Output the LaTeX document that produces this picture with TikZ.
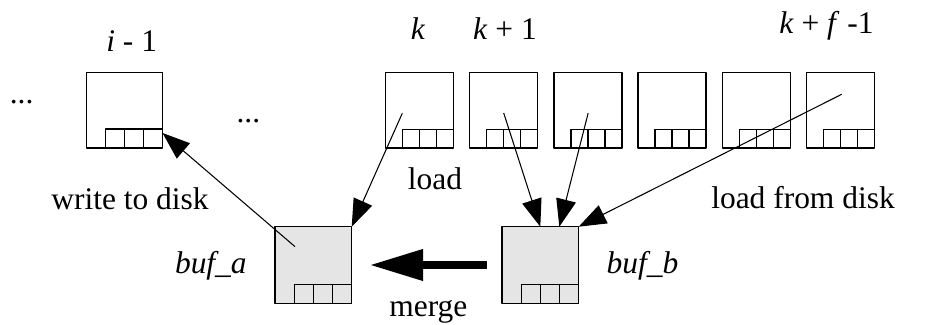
\documentclass[tikz,border=0pt]{standalone}
\usepackage{fontspec}
\setmainfont{Liberation Serif}[ItalicFont={Liberation Serif Italic}]
\usetikzlibrary{arrows.meta}

\begin{document}
\begin{tikzpicture}[>={Triangle[length=0.55cm,width=0.4cm]}, line join=round, font=\fontsize{17.9}{21}\selectfont,
	page/.style={draw, line width=0.85pt, inner sep=0pt, outer sep=0pt, minimum width=1.36cm, minimum height=1.514cm},
	buffer/.style={page, fill=gray!20, minimum width=1.534cm, minimum height=1.532cm},
	cells/.style 2 args={path picture={
		\foreach \j in {1,2,3}
			\draw[line width=0.85pt] ([xshift=-\j*#1]path picture bounding box.south east) rectangle ([xshift=-\j*#1+#1, yshift=#2]path picture bounding box.south east);}},
	link/.style={->, line width=0.6pt},
	txt/.style={anchor=base, inner sep=0pt}]
	\useasboundingbox (0,0) rectangle (18.92,6.5);
	
	% HÀNG TRÊN: trang i-1 và các trang k ... k+f-1
	\node[page, minimum width=1.516cm, cells={0.38cm}{0.38cm}] (im1) at (2.492,4.297) {};
	\foreach \n in {0,...,5}
		\node[page, cells={0.34cm}{0.37cm}] (p\n) at ({8.386+1.6848*\n},4.297) {};
	
	\node[txt] (lim1) at (2.634,5.466) {\textit{i} - 1};
	\node[txt] (lk) at (8.36,5.7) {\textit{k}};
	\node[txt] (lk1) at (10.1,5.7) {\textit{k} + 1};
	\node[txt] (lkf) at (16.53,5.834) {\textit{k} + \textit{f} -1};
	\node[txt] (dl) at (0.433,4.43) {...};
	\node[txt] (dm) at (4.967,4.05) {...};
	
	% HAI BỘ ĐỆM buf_a, buf_b
	\node[buffer, cells={0.38cm}{0.38cm}] (ba) at (6.267,1.2) {};
	\node[buffer, cells={0.38cm}{0.38cm}] (bb) at (10.806,1.2) {};
	\node[txt] (lba) at (4.217,1.03) {\textit{buf\_a}};
	\node[txt] (lbb) at (12.85,1.03) {\textit{buf\_b}};
	
	% MŨI TÊN: ghi, nạp, trộn
	\draw[link] ([shift={(-0.367,0.367)}]ba.center) -- ([yshift=0.3cm]im1.south east);
	\draw[link] ([shift={(-0.34,-0.063)}]p0.center) -- (ba.north east);
	\draw[link] ([shift={(0.003,-0.057)}]p1.center) -- (bb.north);
	\draw[link] ([shift={(0.008,-0.057)}]p2.center) -- ([xshift=0.38cm]bb.north);
	\draw[link] ([shift={(0.024,0.317)}]p5.center) -- (bb.north east);
	\draw[-{Triangle[length=1.06cm,width=0.6cm]}, line width=4pt] ([xshift=-0.305cm]bb.west) -- ([xshift=0.366cm]ba.east);
	
	\node[txt] (lwr) at (2.6,2.313) {write to disk};
	\node[txt] (lld) at (8.7,2.713) {load};
	\node[txt] (lfd) at (16.06,2.333) {load from disk};
	\node[txt] (lmg) at (8.567,0.18) {merge};
\end{tikzpicture}
\end{document}
